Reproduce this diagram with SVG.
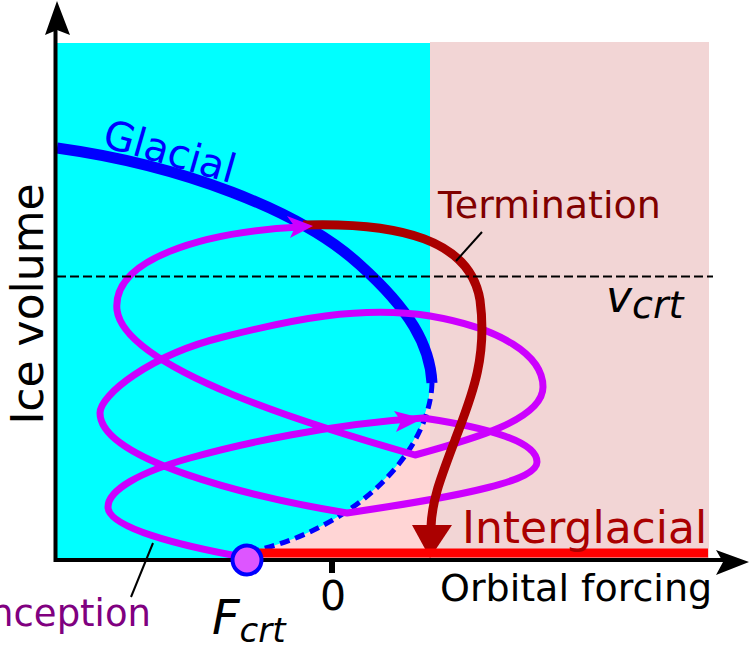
<svg xmlns="http://www.w3.org/2000/svg" width="749" height="647" viewBox="0 0 749 647">
<style>
text{font-family:"DejaVu Sans","Liberation Sans",sans-serif}
.it{font-style:italic}
.mag{fill:none;stroke:#cc00ff;stroke-width:7;stroke-linejoin:round}
.lead{stroke:#000;stroke-width:2;fill:none}
</style>
<g id="background">
<rect x="430" y="42" width="279" height="518" fill="#f2d5d5"/>
<rect x="250" y="383" width="180" height="177" fill="#ffd5d5"/>
<path d="M57,43 H430 V385 C428,450 360,525 258,550 L250,560 H57 Z" fill="#00ffff"/>
</g>
<g id="connectors">
<path id="glacial-branch" d="M57,148 C180,165 300,210 360,265 C410,310 430,345 432,383" fill="none" stroke="#0000ff" stroke-width="11"/>
<path id="unstable-branch" d="M432,383 C430,450 360,525 258,550" fill="none" stroke="#0000ff" stroke-width="5" stroke-dasharray="10,6"/>
<path id="trajectory" class="mag" d="M248,558 C175,545 108,527 108,507 C108,490 140,472 190,458 C240,444 330,424 423,418 C490,428 537,442 537,462 C537,480 470,495 347,513 C250,497 100,460 100,413 C100,395 150,355 223,337 C290,320 360,305 430,316 C500,328 543,355 543,387 C543,420 470,440 415,455 C320,428 125,370 117,310 C112,260 200,232 300,227"/>
<polygon points="423,418.5 394,411 401,421 396,432" fill="#cc00ff"/>
<path id="termination" d="M303,225 C400,222 470,240 480,300 C488,360 470,400 455,440 C440,480 432,500 431,527" fill="none" stroke="#aa0000" stroke-width="9"/>
<polygon points="412,525 452,525 430,558" fill="#aa0000"/>
<polygon points="313,226 287,216 295,227 290,238" fill="#cc00ff"/>
<line x1="57" y1="276.5" x2="713" y2="276.5" stroke="#000" stroke-width="2" stroke-dasharray="9,4"/>
<line x1="258" y1="553" x2="708" y2="553" stroke="#ff0000" stroke-width="9"/>
<line class="lead" x1="482" y1="232" x2="456" y2="261"/>
<line class="lead" x1="131" y1="597" x2="153" y2="543"/>
</g>
<g id="axes">
<line x1="55.5" y1="562" x2="55.5" y2="30" stroke="#000" stroke-width="4"/>
<polygon points="57,1 70,35 57,30 45,35" fill="#000"/>
<line x1="54" y1="560" x2="725" y2="560" stroke="#000" stroke-width="4"/>
<polygon points="749,562 716,550 723,562 716,575" fill="#000"/>
<rect x="329" y="560" width="6" height="13" fill="#000"/>
</g>
<g id="fcrt-point">
<circle cx="247" cy="560" r="14.5" fill="#dd55ff" stroke="#0000ff" stroke-width="4"/>
</g>
<g id="labels">
<text transform="translate(101,146) rotate(16)" font-size="40" fill="#0000ff">Glacial</text>
<text x="438" y="218" font-size="38" fill="#800000">Termination</text>
<text x="462" y="543" font-size="44" fill="#aa0000">Interglacial</text>
<text x="440" y="601" font-size="38" fill="#000">Orbital forcing</text>
<text x="333" y="610" font-size="41" fill="#000" text-anchor="middle">0</text>
<text transform="translate(43,304) rotate(-90)" font-size="44" fill="#000" text-anchor="middle">Ice volume</text>
<text x="606" y="312" font-size="44" class="it" fill="#000">v<tspan font-size="38" dy="6">crt</tspan></text>
<text x="212" y="634" font-size="48" class="it" fill="#000">F<tspan font-size="34" dy="8">crt</tspan></text>
<text x="151" y="626" font-size="37" fill="#800080" text-anchor="end">Inception</text>
</g>
</svg>
